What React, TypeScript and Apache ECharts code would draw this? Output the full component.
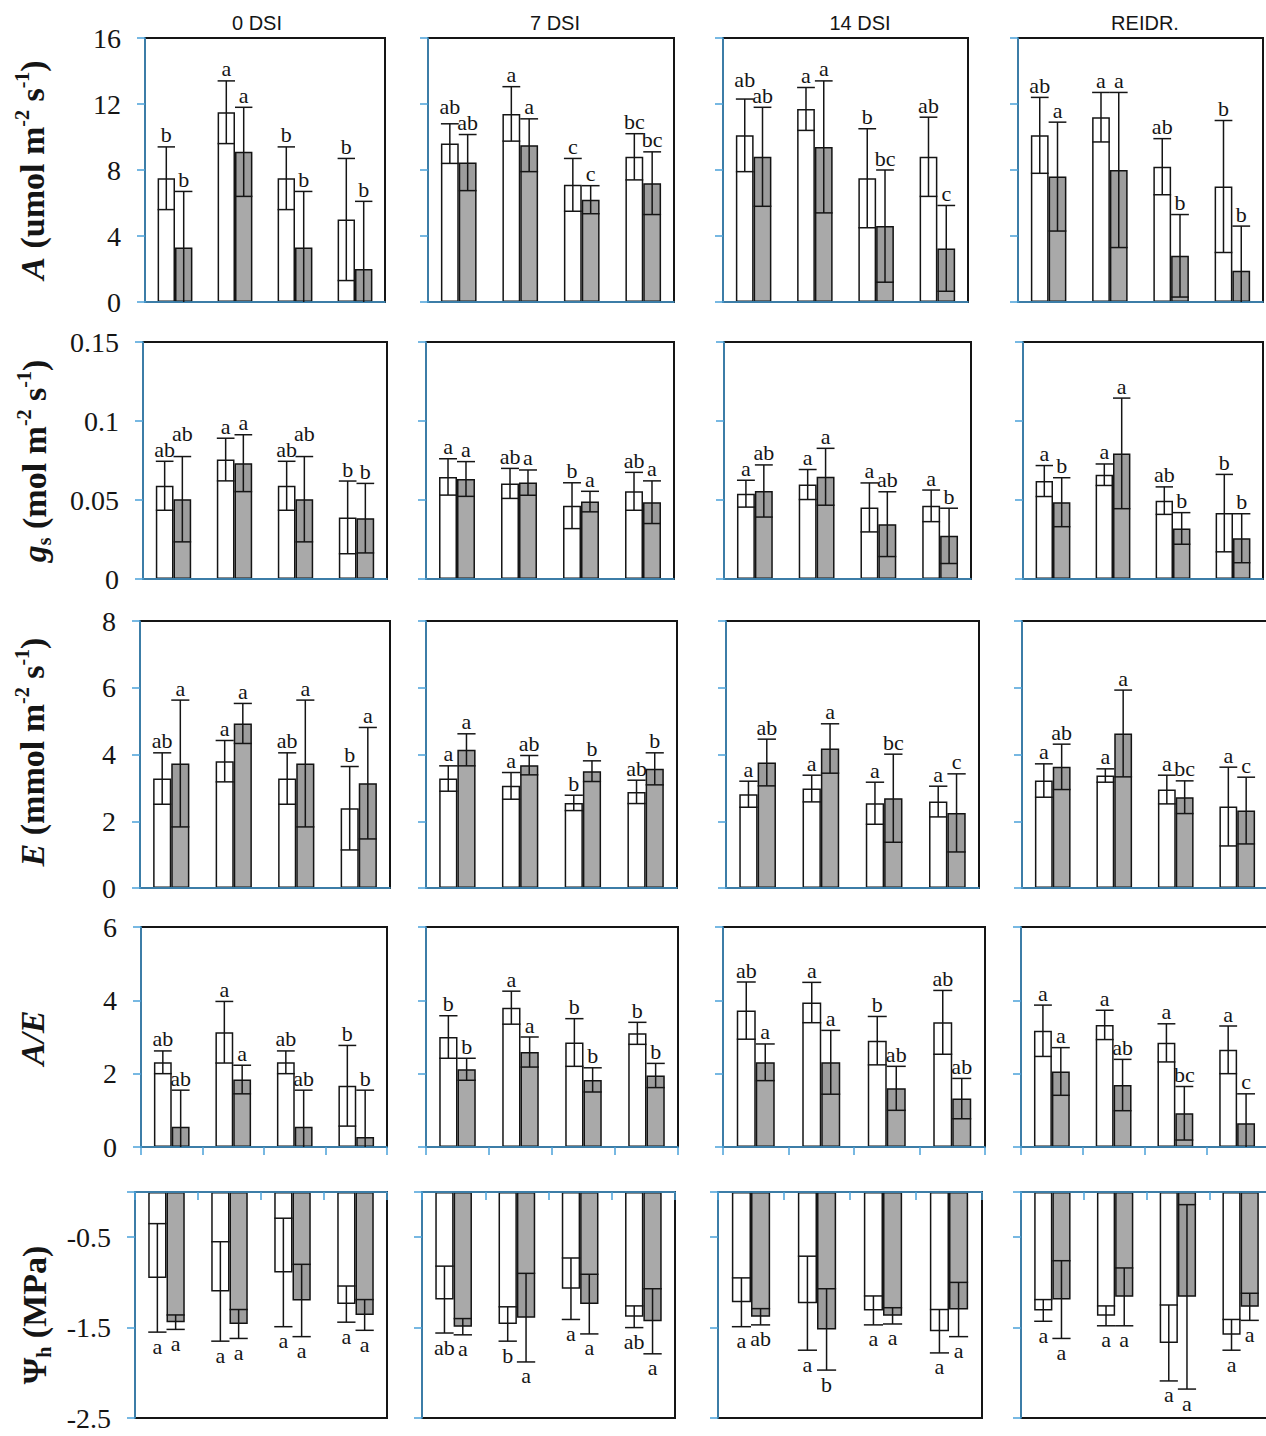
import React, { useEffect, useRef } from 'react';
import * as echarts from 'echarts';

// ---------- labels ----------
const columnLabels = ['0 DSI', '7 DSI', '14 DSI', 'REIDR.'];
const groupLabels = ['G1', 'G2', 'G3', 'G4'];

// ---------- Row 1: A (umol m-2 s-1) — [column][group] ----------
const aWhiteMean = [[7.5, 11.5, 7.5, 5.0], [9.6, 11.4, 7.1, 8.8], [10.1, 11.7, 7.5, 8.8], [10.1, 11.2, 8.2, 7.0]];
const aWhiteErr = [[1.9, 1.9, 1.9, 3.7], [1.2, 1.65, 1.6, 1.4], [2.2, 1.3, 3.0, 2.4], [2.3, 1.5, 1.7, 4.0]];
const aWhiteLet = [['b', 'a', 'b', 'b'], ['ab', 'a', 'c', 'bc'], ['ab', 'a', 'b', 'ab'], ['ab', 'a', 'ab', 'b']];
const aGrayMean = [[3.3, 9.1, 3.3, 2.0], [8.45, 9.5, 6.2, 7.2], [8.8, 9.4, 4.6, 3.25], [7.6, 8.0, 2.8, 1.9]];
const aGrayErr = [[3.4, 2.7, 3.4, 4.1], [1.7, 1.6, 0.85, 1.9], [3.0, 4.0, 3.4, 2.6], [3.3, 4.7, 2.5, 2.7]];
const aGrayLet = [['b', 'a', 'b', 'b'], ['ab', 'a', 'c', 'bc'], ['ab', 'a', 'bc', 'c'], ['a', 'a', 'b', 'b']];

// ---------- Row 2: gs (mol m-2 s-1) ----------
const gWhiteMean = [[0.059, 0.0756, 0.059, 0.039], [0.0646, 0.0605, 0.0464, 0.0555], [0.054, 0.0598, 0.0453, 0.0463], [0.062, 0.066, 0.0496, 0.0417]];
const gWhiteErr = [[0.0155, 0.0135, 0.0155, 0.023], [0.0115, 0.0095, 0.0145, 0.012], [0.0085, 0.0095, 0.0155, 0.01], [0.0098, 0.0068, 0.0087, 0.0245]];
const gWhiteLet = [['ab', 'a', 'ab', 'b'], ['a', 'ab', 'b', 'ab'], ['a', 'a', 'a', 'a'], ['a', 'a', 'ab', 'b']];
const gGrayMean = [[0.0505, 0.0733, 0.0505, 0.0385], [0.0633, 0.061, 0.049, 0.0486], [0.0557, 0.0647, 0.0347, 0.0273], [0.0486, 0.0795, 0.032, 0.0258]];
const gGrayErr = [[0.027, 0.018, 0.027, 0.022], [0.011, 0.008, 0.0065, 0.0135], [0.0165, 0.018, 0.0205, 0.0175], [0.0155, 0.035, 0.01, 0.0155]];
const gGrayLet = [['ab', 'a', 'ab', 'b'], ['a', 'a', 'a', 'a'], ['ab', 'a', 'ab', 'b'], ['b', 'a', 'b', 'b']];

// ---------- Row 3: E (mmol m-2 s-1) ----------
const eWhiteMean = [[3.28, 3.8, 3.28, 2.39], [3.28, 3.06, 2.55, 2.88], [2.81, 2.98, 2.54, 2.59], [3.22, 3.37, 2.95, 2.44]];
const eWhiteErr = [[0.77, 0.62, 0.77, 1.25], [0.38, 0.4, 0.23, 0.35], [0.39, 0.4, 0.63, 0.46], [0.5, 0.2, 0.43, 1.18]];
const eWhiteLet = [['ab', 'a', 'ab', 'b'], ['a', 'a', 'b', 'ab'], ['a', 'a', 'a', 'a'], ['a', 'a', 'a', 'a']];
const eGrayMean = [[3.73, 4.93, 3.73, 3.14], [4.14, 3.68, 3.5, 3.57], [3.76, 4.18, 2.69, 2.25], [3.63, 4.63, 2.72, 2.32]];
const eGrayErr = [[1.9, 0.6, 1.9, 1.67], [0.48, 0.29, 0.31, 0.48], [0.7, 0.74, 1.32, 1.17], [0.68, 1.3, 0.49, 1.0]];
const eGrayLet = [['a', 'a', 'a', 'a'], ['a', 'ab', 'b', 'b'], ['ab', 'a', 'bc', 'c'], ['ab', 'a', 'bc', 'c']];

// ---------- Row 4: A/E ----------
const rWhiteMean = [[2.31, 3.13, 2.31, 1.67], [3.0, 3.8, 2.85, 3.1], [3.72, 3.94, 2.9, 3.4], [3.17, 3.33, 2.84, 2.65]];
const rWhiteErr = [[0.31, 0.84, 0.31, 1.1], [0.58, 0.45, 0.65, 0.3], [0.78, 0.55, 0.66, 0.87], [0.7, 0.4, 0.52, 0.65]];
const rWhiteLet = [['ab', 'a', 'ab', 'b'], ['b', 'a', 'b', 'b'], ['ab', 'a', 'b', 'ab'], ['a', 'a', 'a', 'a']];
const rGrayMean = [[0.55, 1.84, 0.55, 0.27], [2.12, 2.59, 1.83, 1.95], [2.31, 2.31, 1.6, 1.32], [2.06, 1.69, 0.92, 0.65]];
const rGrayErr = [[1.0, 0.39, 1.0, 1.28], [0.3, 0.41, 0.33, 0.33], [0.5, 0.87, 0.6, 0.55], [0.65, 0.7, 0.73, 0.8]];
const rGrayLet = [['ab', 'a', 'ab', 'b'], ['b', 'a', 'b', 'b'], ['a', 'a', 'ab', 'ab'], ['a', 'ab', 'bc', 'c']];

// ---------- Row 5: Ψh (MPa) ----------
const pWhiteMean = [[-0.95, -1.1, -0.89, -1.24], [-1.19, -1.46, -1.07, -1.38], [-1.22, -1.23, -1.31, -1.54], [-1.31, -1.37, -1.67, -1.58]];
const pWhiteErr = [[0.6, 0.55, 0.6, 0.2], [0.37, 0.19, 0.34, 0.12], [0.27, 0.52, 0.16, 0.24], [0.12, 0.11, 0.42, 0.17]];
const pWhiteLet = [['a', 'a', 'a', 'a'], ['ab', 'b', 'a', 'ab'], ['a', 'a', 'a', 'a'], ['a', 'a', 'a', 'a']];
const pGrayMean = [[-1.44, -1.46, -1.2, -1.36], [-1.49, -1.39, -1.24, -1.43], [-1.38, -1.52, -1.37, -1.3], [-1.19, -1.16, -1.16, -1.27]];
const pGrayErr = [[0.08, 0.16, 0.4, 0.17], [0.09, 0.49, 0.33, 0.36], [0.09, 0.45, 0.09, 0.3], [0.43, 0.32, 1.02, 0.15]];
const pGrayLet = [['a', 'a', 'a', 'a'], ['a', 'a', 'a', 'a'], ['ab', 'b', 'a', 'a'], ['a', 'a', 'a', 'a']];

// ---------- styles ----------
const SERIF = '"Liberation Serif", "Times New Roman", serif';
const SANS = '"Liberation Sans", Arial, sans-serif';
const AXIS_BLUE = '#4aa0d8';
const INK = '#151515';
const GRAY = '#a9a9a9';
const BAR_FRAC = 0.29;
const LETTER_SIZE = 22;

type Row = {
  min: number; max: number; interval: number;
  wMean: number[][]; wErr: number[][]; wLet: string[][];
  gMean: number[][]; gErr: number[][]; gLet: string[][];
  title: string; titleX: number; titleY: number;
  top: number; bottom: number; lefts: number[]; rights: number[];
  xTicks: boolean; negative: boolean;
};

const rows: Row[] = [
  {
    min: 0, max: 16, interval: 4,
    wMean: aWhiteMean, wErr: aWhiteErr, wLet: aWhiteLet, gMean: aGrayMean, gErr: aGrayErr, gLet: aGrayLet,
    title: '{i|A}{n| (umol m}{sup|-2}{n| s}{sup|-1}{n|)}', titleX: 32, titleY: 170,
    top: 38, bottom: 302, lefts: [145, 428, 723, 1018], rights: [385, 674, 968, 1263],
    xTicks: false, negative: false,
  },
  {
    min: 0, max: 0.15, interval: 0.05,
    wMean: gWhiteMean, wErr: gWhiteErr, wLet: gWhiteLet, gMean: gGrayMean, gErr: gGrayErr, gLet: gGrayLet,
    title: '{i|g}{sub|s}{n| (mol m}{sup|-2}{n| s}{sup|-1}{n|)}', titleX: 34, titleY: 461,
    top: 342, bottom: 579, lefts: [143, 426, 724, 1023], rights: [387, 674, 971, 1263],
    xTicks: false, negative: false,
  },
  {
    min: 0, max: 8, interval: 2,
    wMean: eWhiteMean, wErr: eWhiteErr, wLet: eWhiteLet, gMean: eGrayMean, gErr: eGrayErr, gLet: eGrayLet,
    title: '{i|E}{n| (mmol m}{sup|-2}{n| s}{sup|-1}{n|)}', titleX: 32, titleY: 752,
    top: 621, bottom: 888, lefts: [140, 426, 726, 1022], rights: [390, 677, 979, 1268],
    xTicks: false, negative: false,
  },
  {
    min: 0, max: 6, interval: 2,
    wMean: rWhiteMean, wErr: rWhiteErr, wLet: rWhiteLet, gMean: rGrayMean, gErr: rGrayErr, gLet: rGrayLet,
    title: '{i|A/E}', titleX: 32, titleY: 1038,
    top: 927, bottom: 1147, lefts: [141, 426, 723, 1021], rights: [387, 678, 985, 1268],
    xTicks: true, negative: false,
  },
  {
    min: -2.5, max: 0, interval: 1,
    wMean: pWhiteMean, wErr: pWhiteErr, wLet: pWhiteLet, gMean: pGrayMean, gErr: pGrayErr, gLet: pGrayLet,
    title: '{n|Ψ}{sub|h}{n| (MPa)}', titleX: 34, titleY: 1315,
    top: 1192, bottom: 1418, lefts: [135, 422, 718, 1021], rights: [387, 675, 982, 1272],
    xTicks: true, negative: true,
  },
];

const headerX = [257, 555, 860, 1145];

const titleRich = {
  n: { fontFamily: SERIF, fontWeight: 'bold', fontSize: 34, lineHeight: 40, fill: INK },
  i: { fontFamily: SERIF, fontWeight: 'bold', fontStyle: 'italic', fontSize: 34, lineHeight: 40, fill: INK },
  sup: { fontFamily: SERIF, fontWeight: 'bold', fontSize: 20, lineHeight: 20, verticalAlign: 'top', fill: INK },
  sub: { fontFamily: SERIF, fontWeight: 'bold', fontSize: 20, lineHeight: 20, verticalAlign: 'bottom', fill: INK },
};

function makeRenderer(row: Row, c: number) {
  return (params: any, api: any) => {
    const i = api.value(0);
    const base = api.coord([i, row.negative ? row.max : row.min]);
    const band = api.size([1, 0])[0];
    const w = band * BAR_FRAC;
    const clampY = (v: number) => api.coord([i, Math.max(row.min, Math.min(row.max, v))])[1];
    const specs = [
      { m: row.wMean[c][i], e: row.wErr[c][i], l: row.wLet[c][i], dx: -w / 2, shade: false },
      { m: row.gMean[c][i], e: row.gErr[c][i], l: row.gLet[c][i], dx: w / 2, shade: true },
    ];
    const children: any[] = [];
    const letterY: number[] = [];
    specs.forEach((s) => {
      const cx = base[0] + s.dx;
      const hi = s.m + s.e;
      const lo = s.m - s.e;
      const yHi = clampY(hi);
      const yLo = clampY(lo);
      const yM = clampY(s.m);
      const inner = row.negative ? hi : lo;
      const yIn = clampY(inner);
      if (s.shade) {
        children.push({
          type: 'rect',
          shape: { x: cx - w / 2, y: Math.min(yM, yIn), width: w, height: Math.abs(yIn - yM) },
          style: { fill: 'rgba(0,0,0,0.07)' },
        });
      }
      children.push({ type: 'line', shape: { x1: cx, y1: yHi, x2: cx, y2: yLo }, style: { stroke: INK, lineWidth: 1.5 } });
      if (hi <= row.max) {
        children.push({ type: 'line', shape: { x1: cx - w / 2, y1: yHi, x2: cx + w / 2, y2: yHi }, style: { stroke: INK, lineWidth: 1.5 } });
      }
      if (lo >= row.min) {
        children.push({ type: 'line', shape: { x1: cx - w / 2, y1: yLo, x2: cx + w / 2, y2: yLo }, style: { stroke: INK, lineWidth: 1.5 } });
      }
      letterY.push(row.negative ? yLo + 3 : yHi - 1);
    });

    // keep the two letters of a pair from overlapping when they are wide
    const minGap = 16;
    const wide = (specs[0].l.length + specs[1].l.length) * LETTER_SIZE * 0.25 > w;
    if (wide && Math.abs(letterY[0] - letterY[1]) < minGap) {
      if (!row.negative) {
        const k = letterY[0] <= letterY[1] ? 0 : 1;
        letterY[k] = letterY[1 - k] - minGap;
      } else {
        const k = letterY[0] >= letterY[1] ? 0 : 1;
        letterY[k] = letterY[1 - k] + minGap;
      }
    }

    specs.forEach((s, k) => {
      children.push({
        type: 'text',
        x: base[0] + s.dx,
        y: letterY[k],
        style: {
          text: s.l,
          font: `${LETTER_SIZE}px ${SERIF}`,
          fill: INK,
          align: 'center',
          verticalAlign: row.negative ? 'top' : 'bottom',
        },
      });
    });
    return { type: 'group', children };
  };
}

function buildOption() {
  const grid: any[] = [];
  const xAxis: any[] = [];
  const yAxis: any[] = [];
  const series: any[] = [];
  rows.forEach((row, r) => {
    for (let c = 0; c < 4; c++) {
      const idx = r * 4 + c;
      grid.push({
        left: row.lefts[c], top: row.top,
        width: row.rights[c] - row.lefts[c], height: row.bottom - row.top,
        show: true, borderColor: INK, borderWidth: 2, backgroundColor: 'transparent',
        containLabel: false, outerBoundsMode: 'none',
      });
      xAxis.push({
        type: 'category', gridIndex: idx, data: groupLabels, z: 4,
        position: row.negative ? 'top' : 'bottom',
        axisLine: { show: true, onZero: false, lineStyle: { color: AXIS_BLUE, width: 1.5 } },
        axisTick: { show: row.xTicks, inside: row.negative, length: 8, lineStyle: { color: AXIS_BLUE, width: 1.5 } },
        axisLabel: { show: false },
        splitLine: { show: false },
      });
      yAxis.push({
        type: 'value', gridIndex: idx, min: row.min, max: row.max, interval: row.interval, z: 4,
        axisLine: { show: true, lineStyle: { color: AXIS_BLUE, width: 1.5 } },
        axisTick: { show: true, length: 8, lineStyle: { color: AXIS_BLUE, width: 1.5 } },
        axisLabel: {
          show: c === 0, fontFamily: SERIF, fontSize: 28, color: INK, margin: 24,
          formatter: row.negative ? (v: number) => (v === 0 ? '' : String(v)) : undefined,
        },
        splitLine: { show: false },
      });
      series.push({
        type: 'bar', xAxisIndex: idx, yAxisIndex: idx, data: row.wMean[c],
        barWidth: `${BAR_FRAC * 100}%`, barGap: '0%', silent: true,
        itemStyle: { color: '#ffffff', borderColor: INK, borderWidth: 1.5 },
      });
      series.push({
        type: 'bar', xAxisIndex: idx, yAxisIndex: idx, data: row.gMean[c],
        barWidth: `${BAR_FRAC * 100}%`, barGap: '0%', silent: true,
        itemStyle: { color: GRAY, borderColor: INK, borderWidth: 1.5 },
      });
      series.push({
        type: 'custom', xAxisIndex: idx, yAxisIndex: idx, z: 5, silent: true,
        data: groupLabels.map((_, i) => [i, row.wMean[c][i], row.gMean[c][i]]),
        encode: { x: 0, y: [1, 2] },
        renderItem: makeRenderer(row, c),
      });
    }
  });

  const graphic: any[] = [];
  columnLabels.forEach((t, c) => {
    graphic.push({
      type: 'text', x: headerX[c], y: 23,
      style: { text: t, font: `20px ${SANS}`, fill: INK, align: 'center', verticalAlign: 'middle' },
    });
  });
  rows.forEach((row) => {
    graphic.push({
      type: 'text', x: row.titleX, y: row.titleY, rotation: Math.PI / 2,
      style: { text: row.title, rich: titleRich, align: 'center', verticalAlign: 'middle', fill: INK },
    });
  });

  return { animation: false, backgroundColor: '#ffffff', grid, xAxis, yAxis, series, graphic };
}

export default function App() {
  const ref = useRef<HTMLDivElement>(null);
  useEffect(() => {
    if (!ref.current) return;
    const chart = echarts.init(ref.current, undefined, { renderer: 'svg' });
    chart.setOption(buildOption() as any);
    return () => chart.dispose();
  }, []);
  return <div ref={ref} style={{ position: 'absolute', left: 0, top: 0, width: 1266, height: 1436 }} />;
}
